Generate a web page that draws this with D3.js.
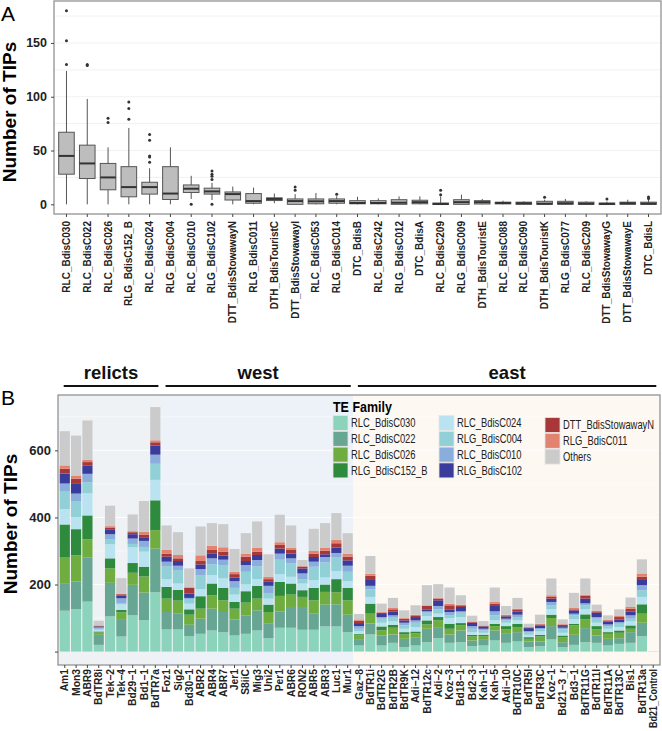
<!DOCTYPE html>
<html>
<head>
<meta charset="utf-8">
<script src="https://cdn.jsdelivr.net/npm/d3@7"></script>
<style>
  body { margin: 0; background: #fff; }
  text { font-family: "Liberation Sans", Arial, sans-serif; }
</style>
</head>
<body>
<svg id="chart" width="662" height="731"></svg>
<script>
// ---- panel A: TIPs per TE family (boxplots) ----
const famA = ["RLC_BdisC030", "RLC_BdisC022", "RLC_BdisC026", "RLG_BdisC152_B", "RLC_BdisC024",
  "RLG_BdisC004", "RLC_BdisC010", "RLG_BdisC102", "DTT_BdisStowawayN", "RLG_BdisC011",
  "DTH_BdisTouristC", "DTT_BdisStowawayI", "RLC_BdisC053", "RLG_BdisC014", "DTC_BdisB",
  "RLC_BdisC242", "RLG_BdisC012", "DTC_BdisA", "RLC_BdisC209", "RLG_BdisC009",
  "DTH_BdisTouristE", "RLC_BdisC088", "RLC_BdisC090", "DTH_BdisTouristK", "RLG_BdisC077",
  "RLC_BdisC209", "DTT_BdisStowawayG", "DTT_BdisStowawayE", "DTC_BdisL"];
const boxLow = [0, 0, 0, 0, 0, 0, 5, 4, 0, 0, 1, 0, 0, 0, 0, 0, 0, 0, 0, 0, 0, 0, 0, 0, 0, 0, 0, 0, 0];
const boxQ1 = [28, 24, 13.5, 7, 9.5, 4.5, 11, 9.5, 4, 1, 3.5, 0, 0.5, 1, 0.5, 0.5, 0, 0.5, 0, 0, 0.3, 0.4, 0, 0, 0, 0, 0, 0, 0];
const boxMed = [45, 38, 25, 16, 16, 10, 14.5, 12, 9.5, 3, 5, 3, 2.8, 3, 1.2, 1.2, 1.5, 2, 0.3, 2, 2, 1.2, 1, 0.6, 1, 0.6, 0.4, 1, 0.6];
const boxQ3 = [67, 55, 38, 35, 20.5, 35, 18, 15, 11.5, 10, 6, 5, 5, 5, 3.4, 3.4, 4.3, 3.8, 1.2, 4.3, 3.4, 2, 2, 2.8, 2.8, 2, 1.2, 2, 2];
const boxHigh = [124, 98, 53, 71, 33.5, 53, 26.5, 20, 16.5, 15.5, 10, 9.5, 10.5, 7.5, 7, 5.5, 7.4, 7.4, 7.4, 9, 5, 3.4, 2.8, 4.3, 5, 2.8, 2.5, 4.3, 4.5];
const boxOutliers = [[130, 152, 180], [129, 130], [76, 80], [79, 89, 95], [39, 44, 45, 59.5, 65],
  [], [0], [0, 23, 26, 28, 31], [], [], [], [13, 16], [], [9.3], [], [], [], [], [9, 13], [],
  [], [], [], [6.5], [], [], [5], [], [5.5, 6.8]];
const ticksA = [0, 50, 100, 150];

// ---- panel B: stacked TIPs per accession ----
const accessions = ["Am1", "Mon3", "ABR9", "BdTR8i", "Tek\u22122", "Tek\u22124", "Bd29\u22121", "Bd1\u22121", "BdTR7a",
  "Foz1", "Sig2", "Bd30\u22121", "ABR2", "ABR4", "ABR7", "Jer1", "S8iiC", "Mig3", "Uni2", "Per1", "ABR6",
  "RON2", "ABR5", "ABR3", "Luc1", "Mur1",
  "Gaz\u22128", "BdTR1i", "BdTR2G", "BdTR2B", "BdTR9K", "Adi\u221212", "BdTR12c", "Adi\u22122", "Koz\u22123",
  "Bd18\u22121", "Bd2\u22123", "Kah\u22121", "Kah\u22125", "Adi\u221210", "BdTR10C", "BdTR5I", "BdTR3C", "Koz\u22121",
  "Bd21\u22123_r", "Bd3\u22121", "BdTR11G", "BdTR11I", "BdTR11A", "BdTR13C", "Bis1", "BdTR13a", "Bd21_Control"];
const groups = ["relicts", "west", "east"];
const groupFirst = [0, 9, 26];
const groupLast = [8, 25, 52];

const families = ["RLC_BdisC030", "RLC_BdisC022", "RLC_BdisC026", "RLG_BdisC152_B", "RLC_BdisC024",
  "RLG_BdisC004", "RLC_BdisC010", "RLG_BdisC102", "DTT_BdisStowawayN", "RLG_BdisC011", "Others"];
const famColors = ["#8cd3bb", "#68a694", "#70ad40", "#2e8a3c", "#b9e3f1", "#90d0d6", "#8badde",
  "#3a3c9c", "#a83838", "#e2836f", "#cbcbcb"];

const rlcC030 = [122, 127, 149, 20, 105, 45, 109, 94, 177,
  66, 66, 46, 53, 63, 58, 48, 53, 63, 40, 71, 71, 65, 65, 75, 75, 58,
  18, 51, 18, 26, 13, 18, 28, 40, 26, 28, 16, 18, 33, 26, 30, 13, 16, 36, 13, 20, 28, 26, 18, 23, 26, 46, 1];
const rlcC022 = [80, 82, 131, 30, 100, 52, 90, 82, 130,
  52, 47, 34, 45, 65, 60, 48, 55, 60, 43, 49, 62, 68, 48, 65, 66, 52,
  17, 33, 30, 25, 25, 25, 40, 33, 25, 35, 17, 17, 30, 27, 28, 17, 14, 40, 15, 30, 42, 22, 20, 17, 32, 40, 0];
const rlcC026 = [80, 78, 55, 7, 43, 20, 36, 48, 55,
  40, 39, 30, 30, 40, 35, 32, 38, 35, 35, 46, 37, 30, 40, 38, 36, 43,
  13, 29, 15, 20, 13, 12, 13, 20, 17, 15, 12, 11, 13, 13, 15, 8, 15, 24, 15, 28, 26, 18, 15, 16, 10, 27, 0];
const rlgC152B = [97, 78, 71, 3, 30, 7, 29, 29, 89,
  35, 32, 16, 37, 35, 37, 20, 34, 38, 22, 42, 33, 20, 37, 22, 39, 37,
  4, 30, 12, 9, 7, 5, 12, 10, 15, 7, 5, 4, 7, 10, 10, 5, 5, 10, 5, 5, 15, 10, 5, 7, 10, 28, 0];
const rlcC024 = [46, 36, 66, 5, 42, 17, 47, 45, 61,
  23, 19, 17, 21, 25, 28, 22, 20, 20, 18, 23, 20, 20, 23, 21, 24, 20,
  9, 20, 11, 10, 10, 13, 13, 10, 17, 18, 8, 6, 10, 10, 10, 7, 10, 16, 8, 13, 15, 10, 10, 10, 12, 22, 0];
const rlgC004 = [52, 48, 33, 3, 14, 4, 10, 14, 48,
  38, 40, 12, 42, 32, 40, 20, 38, 38, 15, 43, 40, 13, 40, 45, 42, 28,
  7, 23, 12, 13, 10, 13, 10, 13, 8, 13, 10, 7, 15, 7, 10, 8, 6, 12, 10, 12, 12, 12, 8, 10, 8, 20, 0];
const rlcC010 = [24, 22, 25, 4, 16, 14, 16, 18, 27,
  14, 13, 5, 18, 18, 16, 20, 20, 19, 23, 18, 15, 17, 15, 16, 12, 18,
  8, 10, 5, 5, 8, 7, 4, 10, 10, 4, 8, 5, 12, 5, 7, 3, 4, 10, 5, 5, 6, 5, 5, 5, 10, 15, 0];
const rlgC102 = [30, 31, 24, 3, 13, 8, 13, 9, 27,
  15, 14, 13, 14, 15, 12, 11, 12, 15, 12, 15, 14, 15, 14, 8, 16, 16,
  9, 20, 9, 12, 7, 10, 6, 17, 8, 13, 10, 7, 16, 7, 10, 9, 8, 10, 5, 10, 14, 13, 9, 8, 12, 18, 0];
const dttStowN = [14, 13, 11, 2, 7, 4, 6, 10, 10,
  9, 8, 17, 10, 10, 12, 10, 13, 10, 8, 11, 11, 5, 10, 11, 13, 11,
  7, 10, 4, 6, 5, 5, 10, 5, 12, 5, 2, 2, 7, 3, 6, 2, 3, 5, 4, 3, 8, 4, 3, 7, 8, 7, 0];
const rlgC011 = [10, 10, 7, 1, 4, 2, 3, 8, 6,
  11, 10, 2, 17, 13, 13, 7, 9, 12, 7, 8, 7, 2, 8, 9, 10, 9,
  4, 6, 3, 4, 2, 2, 2, 3, 5, 2, 2, 1, 5, 2, 2, 1, 2, 5, 2, 4, 4, 2, 2, 3, 5, 10, 0];
const others = [102, 119, 117, 14, 61, 46, 50, 92, 99,
  73, 68, 56, 86, 67, 69, 68, 61, 78, 67, 82, 66, 18, 66, 73, 80, 61,
  16, 53, 24, 30, 23, 28, 60, 40, 48, 28, 17, 13, 43, 26, 32, 10, 27, 50, 14, 45, 48, 18, 13, 20, 28, 42, 0];
const seriesB = [rlcC030, rlcC022, rlcC026, rlgC152B, rlcC024, rlgC004, rlcC010, rlgC102, dttStowN, rlgC011, others];
const ticksB = [0, 200, 400, 600];

const svg = d3.select("#chart");
svg.append("rect").attr("width", 662).attr("height", 731).attr("fill", "#fff");

// ================= panel A =================
const xA = d3.scaleBand().domain(d3.range(famA.length)).range([54, 661])
  .paddingInner(0.25).paddingOuter(0.225);
const yA = d3.scaleLinear().domain([-9, 189]).range([214, 1]);

const gA = svg.append("g");
gA.append("rect").attr("x", 54).attr("y", 1).attr("width", 607).attr("height", 213)
  .attr("fill", "#fff");
gA.selectAll("line.grid").data(d3.range(25, 189, 25)).join("line")
  .attr("x1", 54).attr("x2", 661).attr("y1", d => yA(d)).attr("y2", d => yA(d))
  .attr("stroke", "#f1f1f1").attr("stroke-width", 1);

const boxes = gA.selectAll("g.box").data(famA.map((f, i) => i)).join("g")
  .attr("transform", i => `translate(${xA(i)},0)`);
const bw = xA.bandwidth();
boxes.append("line").attr("x1", bw / 2).attr("x2", bw / 2)
  .attr("y1", i => yA(boxLow[i])).attr("y2", i => yA(boxHigh[i]))
  .attr("stroke", "#555").attr("stroke-width", 1);
boxes.append("rect").attr("width", bw)
  .attr("y", i => yA(boxQ3[i])).attr("height", i => Math.max(1.5, yA(boxQ1[i]) - yA(boxQ3[i])))
  .attr("fill", "#bdbdbd").attr("stroke", "#555").attr("stroke-width", 1);
boxes.append("line").attr("x1", 0).attr("x2", bw)
  .attr("y1", i => yA(boxMed[i])).attr("y2", i => yA(boxMed[i]))
  .attr("stroke", "#333").attr("stroke-width", 2);
boxes.selectAll("circle").data(i => boxOutliers[i]).join("circle")
  .attr("cx", bw / 2).attr("cy", d => yA(d)).attr("r", 1.5).attr("fill", "#333");

gA.append("rect").attr("x", 54).attr("y", 1).attr("width", 607).attr("height", 213)
  .attr("fill", "none").attr("stroke", "#9a9a9a").attr("stroke-width", 1.4);

const axA = gA.append("g").attr("transform", "translate(54,0)")
  .call(d3.axisLeft(yA).tickValues(ticksA).tickSize(3).tickPadding(4));
axA.select(".domain").remove();
axA.selectAll("line").attr("stroke", "#444");
axA.selectAll("text").attr("font-size", 12.5).attr("font-weight", "bold").attr("fill", "#222")
  .style("font-family", "'Liberation Sans', Arial, sans-serif");

const axAx = gA.append("g").attr("transform", "translate(0,214)")
  .call(d3.axisBottom(xA).tickSize(3).tickFormat(i => famA[i]));
axAx.select(".domain").remove();
axAx.selectAll("line").attr("stroke", "#444");
axAx.selectAll("text").attr("font-size", 10).attr("font-weight", "bold").attr("fill", "#222")
  .attr("transform", "rotate(-90)").attr("x", -7).attr("y", 0).attr("dy", "0.35em")
  .attr("text-anchor", "end").style("font-family", "'Liberation Sans', Arial, sans-serif");

svg.append("text").attr("transform", "rotate(-90)").attr("x", -112).attr("y", 16)
  .attr("text-anchor", "middle").attr("font-size", 19).attr("font-weight", "bold")
  .text("Number of TIPs");
svg.append("text").attr("x", 1).attr("y", 21).attr("font-size", 21).text("A");

// ================= panel B =================
const xB = d3.scaleBand().domain(d3.range(accessions.length)).range([58, 660])
  .paddingInner(0.1).paddingOuter(0.15);
const yB = d3.scaleLinear().domain([-40, 765]).range([665, 395]);
const stepB = xB.step();

const rows = accessions.map((a, i) => {
  const r = { acc: i };
  families.forEach((f, k) => { r[f] = seriesB[k][i]; });
  return r;
});
const stacked = d3.stack().keys(families)(rows);

const gB = svg.append("g");
const bgColors = ["#eff2f4", "#ecf2f8", "#fdf8f2"];
groups.forEach((g, k) => {
  const x0 = k === 0 ? 58 : xB(groupFirst[k]) - stepB * 0.05;
  const x1 = k === 2 ? 660 : xB(groupLast[k]) + xB.bandwidth() + stepB * 0.05;
  gB.append("rect").attr("x", x0).attr("y", 395).attr("width", x1 - x0).attr("height", 270)
    .attr("fill", bgColors[k]);
});
gB.selectAll("line.grid").data(d3.range(100, 765, 100)).join("line")
  .attr("x1", 58).attr("x2", 660).attr("y1", d => yB(d)).attr("y2", d => yB(d))
  .attr("stroke", "#fff").attr("stroke-opacity", d => d % 200 === 0 ? 0.9 : 0.5)
  .attr("stroke-width", 1);

gB.selectAll("g.layer").data(stacked).join("g")
  .attr("fill", (d, k) => famColors[k])
  .selectAll("rect").data(d => d).join("rect")
  .attr("x", d => xB(d.data.acc)).attr("width", xB.bandwidth())
  .attr("y", d => yB(d[1])).attr("height", d => Math.max(0, yB(d[0]) - yB(d[1])));

gB.append("rect").attr("x", 58).attr("y", 395).attr("width", 602).attr("height", 270)
  .attr("fill", "none").attr("stroke", "#8a8a8a").attr("stroke-width", 1.2);

const axB = gB.append("g").attr("transform", "translate(58,0)")
  .call(d3.axisLeft(yB).tickValues(ticksB).tickSize(3).tickPadding(4)
    .tickFormat(d => d === 0 ? "" : d));
axB.select(".domain").remove();
axB.selectAll("line").attr("stroke", "#444");
axB.selectAll("text").attr("font-size", 13).attr("font-weight", "bold").attr("fill", "#222")
  .style("font-family", "'Liberation Sans', Arial, sans-serif");

const axBx = gB.append("g").attr("transform", "translate(0,665)")
  .call(d3.axisBottom(xB).tickSize(3).tickFormat(i => accessions[i]));
axBx.select(".domain").remove();
axBx.selectAll("line").attr("stroke", "#444");
axBx.selectAll("text").attr("font-size", 10.3).attr("font-weight", "bold").attr("fill", "#222")
  .attr("transform", "rotate(-90)").attr("x", -4).attr("y", 0).attr("dy", "0.35em")
  .attr("text-anchor", "end").style("font-family", "'Liberation Sans', Arial, sans-serif")
  .each(function () {
    // long names are squeezed a little so they stay inside the page, as in the figure
    if (this.getComputedTextLength() > 59) {
      d3.select(this).attr("textLength", 59).attr("lengthAdjust", "spacingAndGlyphs");
    }
  });

svg.append("text").attr("transform", "rotate(-90)").attr("x", -524).attr("y", 17)
  .attr("text-anchor", "middle").attr("font-size", 19).attr("font-weight", "bold")
  .text("Number of TIPs");
svg.append("text").attr("x", 1).attr("y", 405).attr("font-size", 21).text("B");

// group brackets
groups.forEach((g, k) => {
  const x0 = xB(groupFirst[k]) + 4;
  const x1 = xB(groupLast[k]) + xB.bandwidth() - 2;
  svg.append("line").attr("x1", x0).attr("x2", x1).attr("y1", 386).attr("y2", 386)
    .attr("stroke", "#111").attr("stroke-width", 2);
  svg.append("text").attr("x", (x0 + x1) / 2).attr("y", 379).attr("text-anchor", "middle")
    .attr("font-size", 18.5).attr("font-weight", "bold").attr("fill", "#111").text(g);
});

// legend
const lg = svg.append("g");
lg.append("text").attr("transform", "translate(333,412) scale(0.86,1)")
  .attr("font-size", 14.5).attr("font-weight", "bold").text("TE Family");
const legCols = [333, 439, 545];
families.forEach((f, k) => {
  const col = Math.floor(k / 4);
  const row = k % 4;
  const cy = 423 + row * 15.8 + (col === 2 ? 2 : 0);
  lg.append("rect").attr("x", legCols[col]).attr("y", cy - 7.5).attr("width", 15).attr("height", 15)
    .attr("fill", famColors[k]).attr("stroke", "#e6e6e6").attr("stroke-width", 0.8);
  lg.append("text").attr("transform", `translate(${legCols[col] + 18},${cy}) scale(0.75,1)`)
    .attr("dy", "0.35em").attr("font-size", 12.5).attr("fill", "#222").text(f);
});
</script>
</body>
</html>
